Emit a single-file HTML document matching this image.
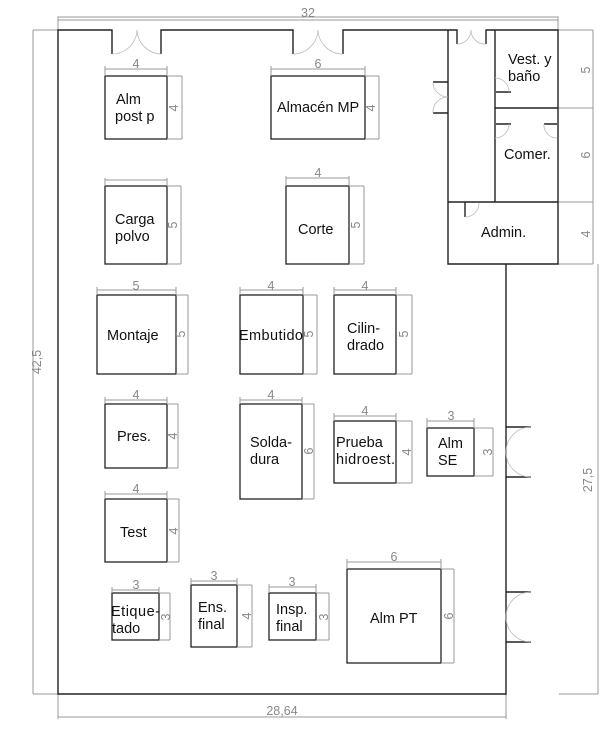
<!DOCTYPE html>
<html><head><meta charset="utf-8"><style>
html,body{margin:0;padding:0;background:#fff;}
svg{display:block;}
text{font-family:"Liberation Sans",sans-serif;}
.w{stroke:#222;stroke-width:1.4;fill:none;}
.b{stroke:#222;stroke-width:1.3;fill:#fff;}
.d{stroke:#9a9a9a;stroke-width:1;fill:none;}
.a{stroke:#bbb;stroke-width:0.8;fill:none;}
.dt{fill:#888;font-size:12.5px;text-anchor:middle;}
.l{fill:#111;font-size:14.5px;}
</style></head><body>
<svg width="613" height="731" viewBox="0 0 613 731" xmlns="http://www.w3.org/2000/svg">
<path class="d" d="M58 30V17H558V30 M58 20H558"/>
<text class="dt" x="308" y="17">32</text>
<path class="d" d="M33 30V694 M33 30H58 M33 694H58"/>
<text class="dt" transform="translate(41,362) rotate(-90)">42,5</text>
<path class="d" d="M58 694V719 M506 694V719 M58 717H506"/>
<text class="dt" x="282" y="715">28,64</text>
<path class="d" d="M593 30V264 M558 30H593 M558 108H593 M558 202H593 M558 264H593 M598 264V694 M559 694H598"/>
<text class="dt" transform="translate(590,70) rotate(-90)">5</text>
<text class="dt" transform="translate(590,155) rotate(-90)">6</text>
<text class="dt" transform="translate(590,234) rotate(-90)">4</text>
<text class="dt" transform="translate(592,480) rotate(-90)">27,5</text>
<path class="w" d="M112 54V30H58V694H506V264 M161 54V30H293V54 M343 54V30H457V44 M486 44V30H558V264H448V30 M495 30V202 M495 108H558 M448 202H558"/>
<path class="a" d="M112 54A25 25 0 0 0 137 30 M161 54A25 25 0 0 1 137 30 M293 54A25 25 0 0 0 318 30 M343 54A25 25 0 0 1 318 30 M457 44A14 14 0 0 0 471 30 M486 44A14 14 0 0 1 471 30"/>
<path class="w" d="M433 82H448 M433 113H448"/>
<path class="a" d="M433 82A15 15 0 0 0 448 97 M433 113A15 15 0 0 1 448 97"/>
<path class="w" d="M496 92H511 M496 124H511 M544 124H557 M465 202V217"/>
<path class="a" d="M495 78A14 14 0 0 1 509 92 M495 138A14 14 0 0 0 509 124 M557 138A13 13 0 0 1 544 124 M465 217A14 14 0 0 0 479 203"/>
<path class="w" d="M506 427H531 M506 477H531 M506 592H531 M506 642H531"/>
<path class="a" d="M531 427A25 25 0 0 0 506 452 M531 477A25 25 0 0 1 506 452 M531 592A25 25 0 0 0 506 617 M531 642A25 25 0 0 1 506 617"/>
<text class="l" x="508" y="64">Vest. y</text>
<text class="l" x="508" y="81">baño</text>
<text class="l" x="504" y="159">Comer.</text>
<text class="l" x="481" y="237">Admin.</text>

<g>
<rect class="b" x="105" y="76" width="62" height="63"/>
<path class="d" d="M105 69H167 M105 66V76 M167 66V76 M182 76V139 M167 76H182 M167 139H182"/>
<text class="dt" x="136" y="68">4</text><text class="dt" transform="translate(178,108) rotate(-90)">4</text>
<text class="l" x="116" y="104">Alm</text><text class="l" x="115" y="121">post p</text>

<rect class="b" x="271" y="76" width="94" height="63"/>
<path class="d" d="M271 69H365 M271 66V76 M365 66V76 M379 76V139 M365 76H379 M365 139H379"/>
<text class="dt" x="318" y="68">6</text><text class="dt" transform="translate(375,108) rotate(-90)">4</text>
<text class="l" x="277" y="112">Almacén MP</text>

<rect class="b" x="105" y="186" width="62" height="78"/>
<path class="d" d="M105 180H167 M105 178V186 M167 178V186 M181 186V264 M167 186H181 M167 264H181"/>
<text class="dt" transform="translate(177,225) rotate(-90)">5</text>
<text class="l" x="115" y="224">Carga</text><text class="l" x="115" y="241">polvo</text>

<rect class="b" x="286" y="186" width="63" height="78"/>
<path class="d" d="M286 178H349 M286 176V186 M349 176V186 M364 186V264 M349 186H364 M349 264H364"/>
<text class="dt" x="318" y="177">4</text><text class="dt" transform="translate(360,225) rotate(-90)">5</text>
<text class="l" x="298" y="234">Corte</text>

<rect class="b" x="97" y="295" width="79" height="79"/>
<path class="d" d="M97 290H176 M97 287V295 M176 287V295 M188 295V374 M176 295H188 M176 374H188"/>
<text class="dt" x="136" y="290">5</text><text class="dt" transform="translate(185,334) rotate(-90)">5</text>
<text class="l" x="107" y="340">Montaje</text>

<rect class="b" x="240" y="295" width="63" height="79"/>
<path class="d" d="M240 290H303 M240 287V295 M303 287V295 M317 295V374 M303 295H317 M303 374H317"/>
<text class="dt" x="271" y="290">4</text><text class="dt" transform="translate(313,334) rotate(-90)">5</text>
<text class="l" x="239" y="340" textLength="64">Embutido</text>

<rect class="b" x="334" y="295" width="62" height="79"/>
<path class="d" d="M334 290H396 M334 287V295 M396 287V295 M412 295V374 M396 295H412 M396 374H412"/>
<text class="dt" x="365" y="290">4</text><text class="dt" transform="translate(408,334) rotate(-90)">5</text>
<text class="l" x="347" y="333">Cilin-</text><text class="l" x="347" y="350">drado</text>

<rect class="b" x="105" y="404" width="62" height="64"/>
<path class="d" d="M105 400H167 M105 397V404 M167 397V404 M178 404V468 M167 404H178 M167 468H178"/>
<text class="dt" x="136" y="399">4</text><text class="dt" transform="translate(177,436) rotate(-90)">4</text>
<text class="l" x="117" y="441">Pres.</text>

<rect class="b" x="240" y="404" width="62" height="95"/>
<path class="d" d="M240 400H302 M240 397V404 M302 397V404 M314 404V499 M302 404H314 M302 499H314"/>
<text class="dt" x="271" y="399">4</text><text class="dt" transform="translate(313,451) rotate(-90)">6</text>
<text class="l" x="250" y="447">Solda-</text><text class="l" x="250" y="464">dura</text>

<rect class="b" x="334" y="421" width="62" height="62"/>
<path class="d" d="M334 416H396 M334 413V421 M396 413V421 M412 421V483 M396 421H412 M396 483H412"/>
<text class="dt" x="365" y="415">4</text><text class="dt" transform="translate(411,452) rotate(-90)">4</text>
<text class="l" x="336" y="447">Prueba</text><text class="l" x="336" y="464" textLength="59">hidroest.</text>

<rect class="b" x="427" y="428" width="47" height="48"/>
<path class="d" d="M427 421H474 M427 418V428 M474 418V428 M493 428V476 M474 428H493 M474 476H493"/>
<text class="dt" x="451" y="420">3</text><text class="dt" transform="translate(492,452) rotate(-90)">3</text>
<text class="l" x="438" y="448">Alm</text><text class="l" x="438" y="465">SE</text>

<rect class="b" x="105" y="499" width="62" height="63"/>
<path class="d" d="M105 494H167 M105 491V499 M167 491V499 M179 499V562 M167 499H179 M167 562H179"/>
<text class="dt" x="136" y="493">4</text><text class="dt" transform="translate(178,531) rotate(-90)">4</text>
<text class="l" x="120" y="537">Test</text>

<rect class="b" x="112" y="593" width="47" height="47"/>
<path class="d" d="M112 590H159 M112 587V593 M159 587V593 M170 593V640 M159 593H170 M159 640H170"/>
<text class="dt" x="136" y="589">3</text><text class="dt" transform="translate(170,617) rotate(-90)">3</text>
<text class="l" x="111" y="616" textLength="49">Etique-</text><text class="l" x="112" y="633">tado</text>

<rect class="b" x="191" y="585" width="46" height="62"/>
<path class="d" d="M191 581H237 M191 578V585 M237 578V585 M252 585V647 M237 585H252 M237 647H252"/>
<text class="dt" x="214" y="580">3</text><text class="dt" transform="translate(251,616) rotate(-90)">4</text>
<text class="l" x="198" y="612">Ens.</text><text class="l" x="198" y="629">final</text>

<rect class="b" x="269" y="593" width="47" height="47"/>
<path class="d" d="M269 587H316 M269 584V593 M316 584V593 M329 593V640 M316 593H329 M316 640H329"/>
<text class="dt" x="292" y="586">3</text><text class="dt" transform="translate(328,617) rotate(-90)">3</text>
<text class="l" x="276" y="614">Insp.</text><text class="l" x="276" y="631">final</text>

<rect class="b" x="347" y="569" width="94" height="94"/>
<path class="d" d="M347 562H441 M347 559V569 M441 559V569 M454 569V663 M441 569H454 M441 663H454"/>
<text class="dt" x="394" y="561">6</text><text class="dt" transform="translate(453,616) rotate(-90)">6</text>
<text class="l" x="370" y="623">Alm PT</text>
</g>
</svg>
</body></html>
